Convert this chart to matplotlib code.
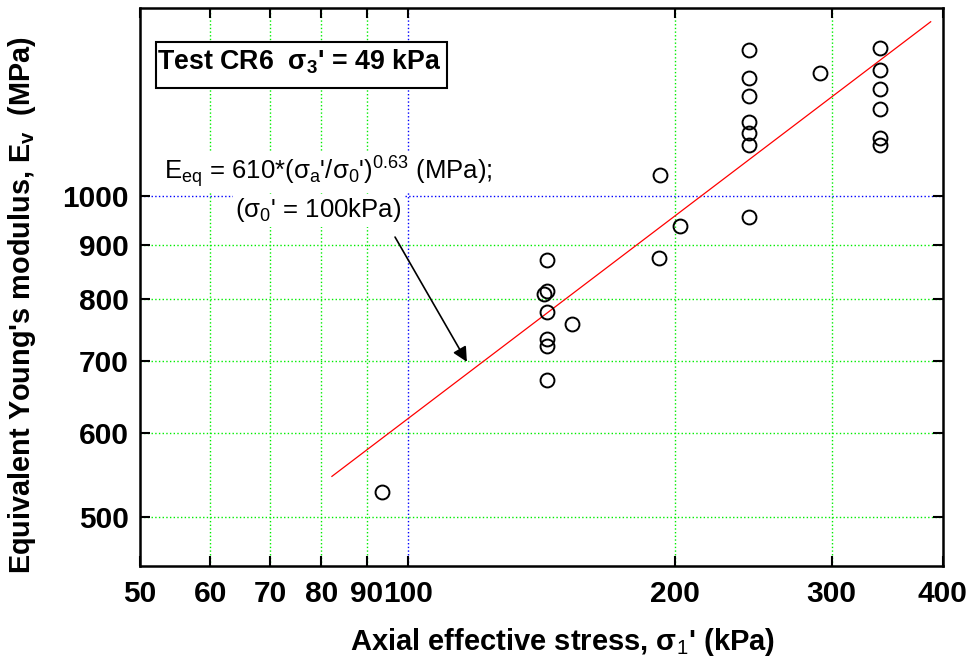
import matplotlib
matplotlib.use("Agg")
import matplotlib.pyplot as plt
import matplotlib.patches as mpatches

plt.rcParams.update({
    "font.family": ["Liberation Sans", "DejaVu Sans"],
    "mathtext.fontset": "custom",
    "mathtext.rm": "Liberation Sans",
    "mathtext.it": "Liberation Sans:italic",
    "mathtext.bf": "Liberation Sans:bold",
})

# measured points (axial stress kPa, modulus MPa)
stress = [143.5, 143.5, 142.5, 143.5, 153.0, 143.5, 143.5, 143.5,
          191.9, 192.1, 202.5,
          242.1, 242.1, 242.1, 242.1, 242.1, 242.1, 242.1,
          290.9,
          340.1, 340.1, 340.1, 340.1, 340.1, 340.1,
          93.5]
modulus = [871, 815, 809, 779, 758, 735, 724, 672,
           875, 1046, 937,
           956, 1370, 1289, 1241, 1174, 1145, 1115,
           1305,
           1375, 1311, 1259, 1206, 1133, 1116,
           528]

# fitted power law line end points
fit_x = [82.2, 387.6]
fit_y = [546, 1456]

x_ticks = [50, 60, 70, 80, 90, 100, 200, 300, 400]
y_ticks = [500, 600, 700, 800, 900, 1000]

fig = plt.figure(figsize=(9.72, 6.63), dpi=100)
ax = fig.add_axes([0.144, 0.1463, 0.826, 0.8417])
ax.set_xscale("log")
ax.set_yscale("log")
ax.set_xlim(50, 400)
ax.set_ylim(450, 1500)

# grid lines: green dotted, blue at the reference values
for xv in x_ticks[1:-1]:
    c = "#0000ff" if xv == 100 else "#00ee00"
    ax.axvline(xv, color=c, ls=":", lw=1.0, zorder=0)
for yv in y_ticks:
    c = "#0000ff" if yv == 1000 else "#00ee00"
    ax.axhline(yv, color=c, ls=":", lw=1.0, zorder=0)

ax.plot(fit_x, fit_y, color="red", lw=0.9, zorder=2)
ax.plot(stress, modulus, ls="none", marker="o", ms=10, mfc="none",
        mec="black", mew=1.4, zorder=3)

ax.set_xticks(x_ticks)
ax.set_xticklabels([str(v) for v in x_ticks])
ax.set_yticks(y_ticks)
ax.set_yticklabels([str(v) for v in y_ticks])
ax.minorticks_off()
ax.tick_params(which="major", direction="in", top=True, right=True,
               length=7, width=1.5, labelsize=21.5)
ax.tick_params(axis="x", pad=10)
ax.tick_params(axis="y", pad=8)
for lab in ax.get_xticklabels() + ax.get_yticklabels():
    lab.set_fontweight("bold")
for sp in ax.spines.values():
    sp.set_linewidth(1.8)

ax.set_xlabel(r"Axial effective stress, $\mathbf{σ}_{\mathrm{1}}$' (kPa)",
              fontsize=21, fontweight="bold")
ax.xaxis.set_label_coords(0.526, -0.108)
ax.set_ylabel(r"Equivalent Young's modulus, E$_{\mathbf{v}}$  (MPa)",
              fontsize=20.8, fontweight="bold")
ax.yaxis.set_label_coords(-0.127, 0.468)

# test label box
ax.add_patch(mpatches.Rectangle((0.0196, 0.8566), 0.3627, 0.0824,
                                transform=ax.transAxes, fc="white",
                                ec="black", lw=1.5, zorder=4))
ax.text(0.0215, 0.889, r"Test CR6  $\mathbf{σ}_{\mathbf{3}}$' = 49 kPa",
        transform=ax.transAxes, ha="left", va="baseline", fontsize=19.3,
        fontweight="bold", zorder=5)

ax.text(0.234, 0.692,
        r"E$_{\mathrm{eq}}$ = 610*(σ$_{\mathrm{a}}$'/σ$_{\mathrm{0}}$')$^{\mathrm{0.63}}$ (MPa);",
        transform=ax.transAxes, ha="center", va="baseline", fontsize=18.5,
        bbox=dict(boxstyle="square,pad=0.1", fc="white", ec="none"), zorder=4)
ax.text(0.222, 0.625, r"(σ$_{\mathrm{0}}$' = 100kPa)",
        transform=ax.transAxes, ha="center", va="baseline", fontsize=18.5,
        bbox=dict(boxstyle="square,pad=0.1", fc="white", ec="none"), zorder=4)

ax.annotate("", xy=(116.6, 699), xytext=(96.8, 915),
            arrowprops=dict(arrowstyle="-|>", color="black", lw=1.2,
                            mutation_scale=22, shrinkA=0, shrinkB=0))

fig.savefig("out.png", dpi=100)
